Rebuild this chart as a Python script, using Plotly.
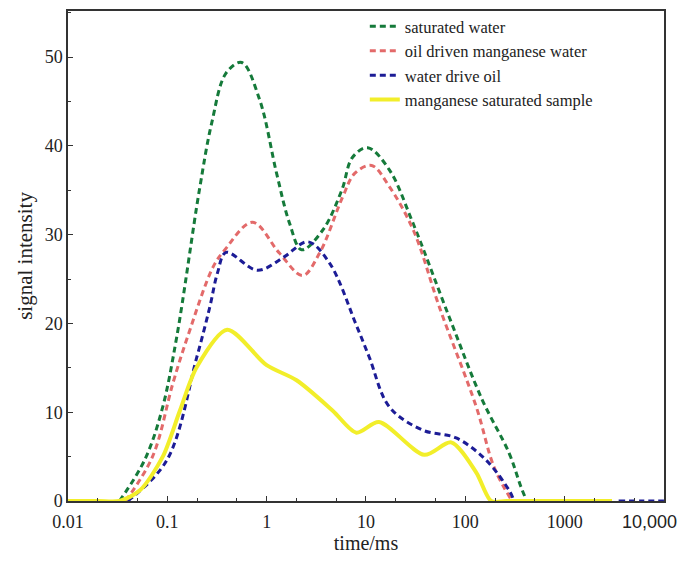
import plotly.graph_objects as go

# ---- data ----
green_x = [0.033, 0.059, 0.088, 0.124, 0.21, 0.28, 0.39, 0.56, 0.85, 1.26, 1.7, 2.25, 3.66, 5.7, 7.3, 10.4, 17.2, 29, 69, 148, 276, 363, 416]
green_y = [0, 4.6, 10.2, 18.4, 35, 42.6, 48.2, 49.4, 45.2, 36.9, 31.3, 28.3, 30.5, 35, 38.7, 39.8, 37.3, 31.6, 20.7, 11.4, 5.4, 1.6, 0]

red_x = [0.038, 0.071, 0.114, 0.16, 0.29, 0.38, 0.72, 1.35, 2.3, 3.4, 5.8, 7.7, 11.4, 17, 30, 55, 129, 195, 295]
red_y = [0, 5, 13.3, 18.5, 26.4, 28.3, 31.4, 27.9, 25.4, 27.9, 34.2, 36.9, 37.8, 35.5, 30.5, 21.8, 10.6, 3.8, 0]

blue_x = [0.04, 0.099, 0.198, 0.267, 0.32, 0.39, 0.81, 1.5, 2.6, 4.3, 8.0, 10.8, 17.2, 37, 81, 162, 276, 310, None, 3500, 6000, 10000]
blue_y = [0, 4.6, 16.2, 21.8, 25.7, 28.0, 26.0, 27.5, 29.2, 26.8, 19.8, 16.2, 10.6, 8.0, 7.1, 4.6, 1.2, 0, None, 0, 0, 0]

yellow_x = [0.01, 0.02, 0.033, 0.053, 0.09, 0.134, 0.198, 0.4, 1.0, 2.0, 4.6, 8.0, 13.5, 38.7, 72, 129, 182, 260, 500, 1000, 2000, 3000]
yellow_y = [0, 0, 0, 1.2, 5, 10.2, 15.1, 19.3, 15.3, 13.6, 10.2, 7.7, 8.9, 5.2, 6.6, 3.2, 0, 0, 0, 0, 0, 0]

names = ["saturated water", "oil driven manganese water", "water drive oil", "manganese saturated sample"]
x_tickvals = [0.01, 0.1, 1, 10, 100, 1000, 10000]
x_ticktext = ["0.01", "0.1", "1", "10", "100", "1000", ""]
last_tick_label = "10,000"
y_tickvals = [0, 10, 20, 30, 40, 50]

fig = go.Figure()
fig.add_trace(go.Scatter(x=green_x, y=green_y, name=names[0], mode="lines",
                         line=dict(color="#157a3a", width=3, dash="6px,4px", shape="spline")))
fig.add_trace(go.Scatter(x=red_x, y=red_y, name=names[1], mode="lines",
                         line=dict(color="#e36a6a", width=3, dash="6px,4px", shape="spline")))
fig.add_trace(go.Scatter(x=blue_x, y=blue_y, name=names[2], mode="lines",
                         line=dict(color="#1c1c96", width=3, dash="6px,4px", shape="spline")))
fig.add_trace(go.Scatter(x=yellow_x, y=yellow_y, name=names[3], mode="lines",
                         line=dict(color="#f2ee2a", width=4, shape="spline", smoothing=0.8)))

font_family = "Liberation Serif, Times New Roman, serif"
fig.update_layout(
    width=687, height=561,
    margin=dict(l=68, r=23, t=11, b=60, autoexpand=False),
    paper_bgcolor="white", plot_bgcolor="white",
    font=dict(family=font_family, color="#222", size=18),
    showlegend=True,
    legend=dict(x=0.498, y=1.004, xanchor="left", yanchor="top",
                bgcolor="rgba(0,0,0,0)", font=dict(size=16.5, family=font_family),
                itemwidth=30, tracegroupgap=0),
)
fig.add_annotation(x=4, y=0, xref="x", yref="paper", text=last_tick_label,
                   showarrow=False, xanchor="center", yanchor="top", xshift=-14, yshift=-9,
                   font=dict(family="Liberation Sans, Arial, sans-serif", size=18, color="#222"))
fig.update_xaxes(
    type="log", range=[-2, 4.0005], automargin=False,
    tickvals=x_tickvals, ticktext=x_ticktext,
    ticklabelstandoff=4,
    ticks="inside", ticklen=5, tickcolor="#333",
    minor=dict(ticks="inside", ticklen=3, tickcolor="#333", showgrid=False),
    showline=True, linecolor="#333", linewidth=1.5, mirror=True,
    showgrid=False, zeroline=False,
    title=dict(text="time/ms", font=dict(size=20), standoff=4),
    tickfont=dict(size=18),
)
fig.update_yaxes(
    range=[0, 55.2], tickvals=y_tickvals, automargin=False,
    ticks="inside", ticklen=5, tickcolor="#333",
    minor=dict(ticks="inside", ticklen=3, dtick=5, tickcolor="#333", showgrid=False),
    showline=True, linecolor="#333", linewidth=1.5, mirror=True,
    showgrid=False, zeroline=False,
    title=dict(text="signal intensity", font=dict(size=21), standoff=6),
    tickfont=dict(size=18),
)

fig.write_html("out.html")
